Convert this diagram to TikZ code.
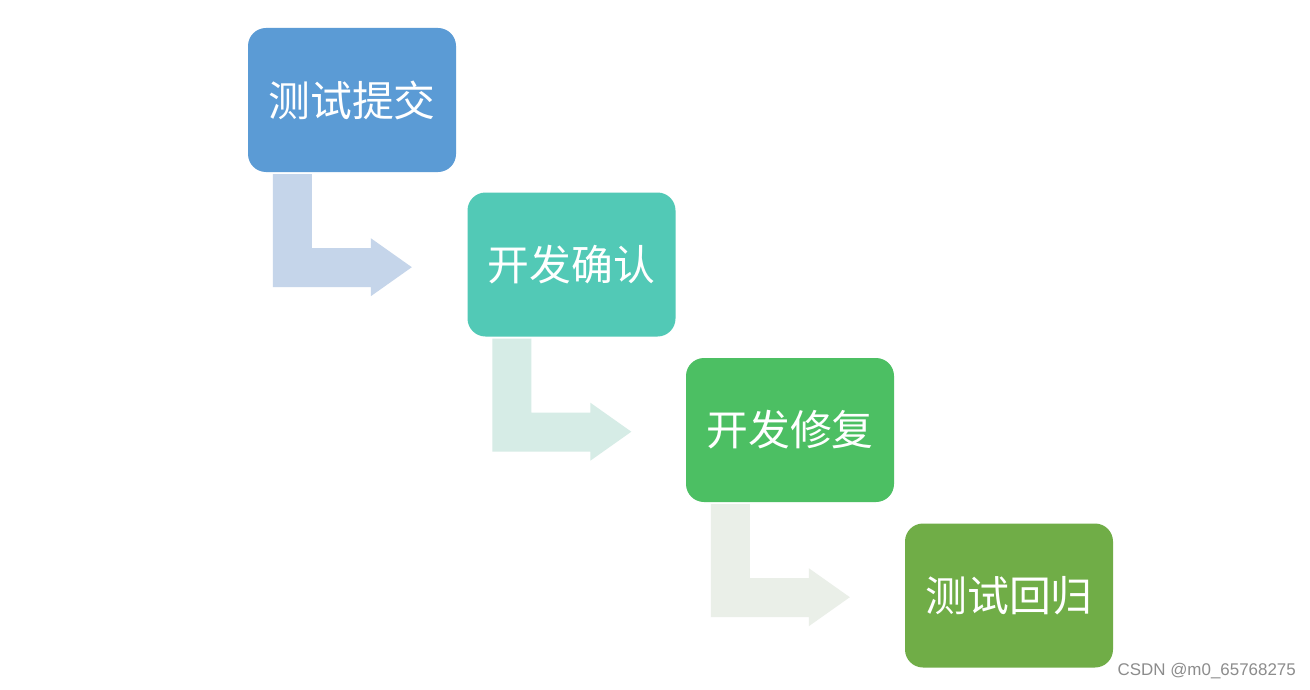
\documentclass[tikz,border=0pt]{standalone}
\usepackage{fontspec}
\newfontfamily\cjk{Noto Sans CJK SC}
\newfontfamily\wm{Liberation Sans}
\definecolor{cA}{HTML}{5B9BD5}
\definecolor{cB}{HTML}{52C9B6}
\definecolor{cC}{HTML}{4CBF63}
\definecolor{cD}{HTML}{70AD47}
\definecolor{aA}{HTML}{C5D5EA}
\definecolor{aB}{HTML}{D6ECE6}
\definecolor{aC}{HTML}{EAEFE8}
\tikzset{
  stepbox/.style={rounded corners=18bp, minimum width=208bp, minimum height=144bp,
    inner sep=0pt, text=white, font=\cjk\fontsize{42}{42}\selectfont},
}
\newcommand{\bentarrow}[2]{%
  \fill[#2] (#1.south west) ++(25,2) -- ++(39,0) -- ++(0,74) -- ++(59,0) -- ++(0,-10)
    -- ++(41,29) -- ++(-41,29) -- ++(0,-9) -- ++(-98,0) -- cycle;}
\begin{document}
\begin{tikzpicture}[x=1bp,y=-1bp]
\useasboundingbox (0,0) rectangle (1310,689);
\fill[white] (0,0) rectangle (1310,689);
\node[stepbox, fill=cA] (b1) at (352,100) {测试提交};
\node[stepbox, fill=cB] (b2) at (571.5,264.5) {开发确认};
\node[stepbox, fill=cC] (b3) at (790,430) {开发修复};
\node[stepbox, fill=cD] (b4) at (1009,595.5) {测试回归};
\bentarrow{b1}{aA}
\bentarrow{b2}{aB}
\bentarrow{b3}{aC}
\node[anchor=east, text=black!45, font=\wm\fontsize{17}{17}\selectfont, inner sep=0pt] (wm) at (1296,671) {CSDN @m0\_65768275};
\end{tikzpicture}
\end{document}
